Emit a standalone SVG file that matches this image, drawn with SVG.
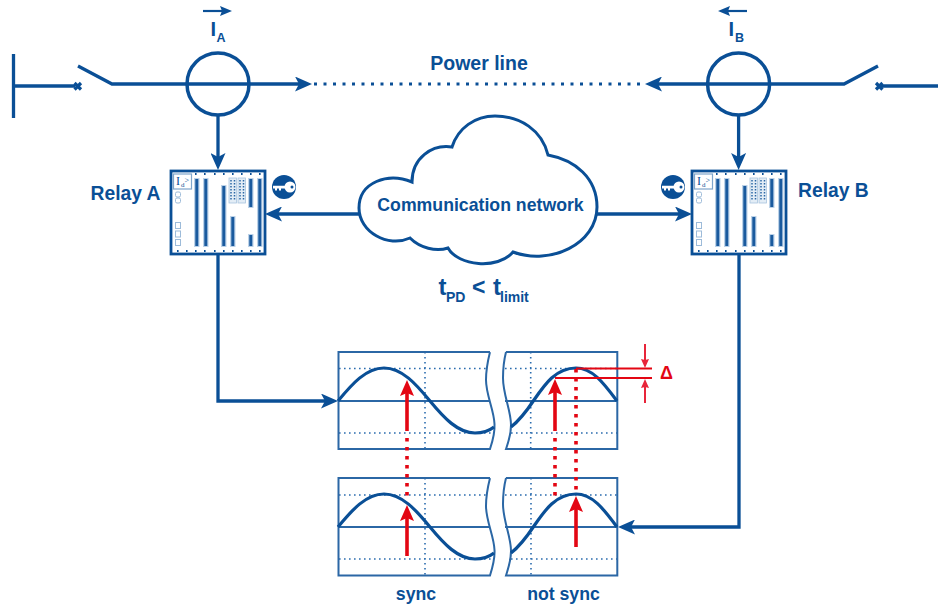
<svg xmlns="http://www.w3.org/2000/svg" width="938" height="606" viewBox="0 0 938 606">
<style>
text{font-family:"Liberation Sans",Arial,sans-serif;font-weight:bold;fill:#0a4f96}
.ln{fill:none;stroke:#0a4f96;stroke-width:3.300}
.cir{fill:none;stroke:#0a4f96;stroke-width:3.500}
.frame{fill:none;stroke:#2b67a5;stroke-width:2}
.mid{stroke:#2b67a5;stroke-width:2.200;fill:none}
.grid{stroke:#2b6cae;stroke-width:1.600;stroke-dasharray:1.600 3.400;fill:none}
.sine{fill:none;stroke:#0a4f96;stroke-width:3.200}
.red{stroke:#e30613;stroke-width:3.600;fill:none}
.reddot{stroke:#e30613;stroke-width:3.600;stroke-dasharray:3.400 5.600;fill:none}
.thin{stroke:#e8253a;stroke-width:2;fill:none}
.slotb{fill:#bcd2e8;stroke:none}
.slot{fill:#1a5a9e;stroke:none}
.conn{fill:#e3edf6;stroke:#a9c4de;stroke-width:.8}
.sq{fill:#fff;stroke:#9dbbd9;stroke-width:1}
.serif{font-family:"Liberation Serif",serif;font-weight:normal}
</style>
<defs>
<marker id="ah" markerUnits="userSpaceOnUse" markerWidth="18" markerHeight="15" refX="4" refY="7.500" orient="auto" viewBox="0 0 18 15"><path d="M0 0L17 7.500L0 15L4 7.500Z" fill="#0a4f96"/></marker>
<marker id="ahs" markerUnits="userSpaceOnUse" markerWidth="12" markerHeight="10" refX="2" refY="5" orient="auto" viewBox="0 0 12 10"><path d="M0 0L12 5L0 10L2 5Z" fill="#0a4f96"/></marker>
<marker id="ahr" markerUnits="userSpaceOnUse" markerWidth="17" markerHeight="14" refX="3" refY="7" orient="auto" viewBox="0 0 17 14"><path d="M0 0L16 7L0 14L3 7Z" fill="#e30613"/></marker>
<marker id="aht" markerUnits="userSpaceOnUse" markerWidth="9" markerHeight="8" refX="1" refY="4" orient="auto" viewBox="0 0 9 8"><path d="M0 0L9 4L0 8L1 4Z" fill="#e8253a"/></marker>
<g id="relay">
<rect x="0" y="0" width="94" height="83" fill="#fff" stroke="#0a4f96" stroke-width="2.800"/>
<rect x="2.500" y="3" width="18" height="15" fill="#fff" stroke="#7fa6cc" stroke-width="1.200"/>
<text class="serif" x="5" y="14" font-size="12">I</text>
<text class="serif" x="10" y="16" font-size="7">d</text>
<text class="serif" x="13.500" y="12" font-size="8">&gt;</text>
<path d="M24 3h1.600M33 3h1.600M43 3h1.600M52 3h1.600M61 3h1.600M70 3h1.600M79 3h1.600M88 3h1.600M6 80h1.600M15 80h1.600M24 80h1.600M33 80h1.600M43 80h1.600M52 80h1.600M61 80h1.600M70 80h1.600M79 80h1.600M88 80h1.600" stroke="#0a4f96" stroke-width="1.800" fill="none"/>
<rect class="slotb" x="23" y="7" width="5.500" height="69"/><rect class="slot" x="24.300" y="8" width="3" height="67"/>
<rect class="slotb" x="32" y="7" width="5.500" height="69"/><rect class="slot" x="33.300" y="8" width="3" height="67"/>
<rect class="slotb" x="50" y="14" width="5.500" height="62"/><rect class="slot" x="51.300" y="15" width="3" height="60"/>
<rect class="slotb" x="59" y="45" width="5.500" height="31"/><rect class="slot" x="60.300" y="46" width="3" height="29"/>
<rect class="slotb" x="77" y="7" width="5.500" height="30"/><rect class="slot" x="78.300" y="8" width="3" height="28"/>
<rect class="slotb" x="77" y="63" width="5.500" height="13"/><rect class="slot" x="78.300" y="64" width="3" height="11"/>
<rect class="slotb" x="86" y="7" width="5.500" height="69"/><rect class="slot" x="87.300" y="8" width="3" height="67"/>
<rect class="conn" x="58" y="7" width="7.500" height="25"/><rect class="conn" x="67" y="7" width="7.500" height="25"/>
<path d="M60 9v21M63.500 9v21M69 9v21M72.500 9v21" stroke="#2b67a5" stroke-width="1.500" stroke-dasharray="1.500 1.500" fill="none"/>
<rect class="sq" x="4.500" y="21" width="5" height="5" rx="1.500"/><rect class="sq" x="4.500" y="27" width="5" height="5" rx="1.500"/>
<rect class="sq" x="4.500" y="51.500" width="5" height="6"/><rect class="sq" x="4.500" y="60" width="5" height="6"/><rect class="sq" x="4.500" y="68.500" width="5" height="6"/>
</g>
<g id="key">
<circle r="12" fill="#0a4f96"/>
<circle cx="6" r="5.500" fill="#fff"/><circle cx="8" r="1.500" fill="#0a4f96"/>
<path d="M-11 -1.200H3V1.500H-3V3.500H-5V1.500H-7V3.500H-9V1.500H-11Z" fill="#fff"/>
</g>
</defs>

<g id="connectors">
<path class="ln" d="M13.500 54V118"/>
<path class="ln" d="M13.500 86H75"/>
<path class="ln" d="M78 66L112 84H299" marker-end="url(#ah)"/>
<path d="M314 84H645" stroke="#0a4f96" stroke-width="3" stroke-dasharray="3 6.500" fill="none"/>
<path class="ln" d="M878 66L844 84H658" marker-end="url(#ah)"/>
<path class="ln" d="M880 86H938"/>
<path class="ln" d="M218 115V157" marker-end="url(#ah)"/>
<path class="ln" d="M738.600 115V157" marker-end="url(#ah)"/>
<path class="ln" d="M360 214H278" marker-end="url(#ah)"/>
<path class="ln" d="M597 214H679" marker-end="url(#ah)"/>
<path class="ln" d="M218 254V401H325" marker-end="url(#ah)"/>
<path class="ln" d="M739 254V527H631" marker-end="url(#ah)"/>
<path d="M203 11H222" stroke="#0a4f96" stroke-width="2.200" fill="none" marker-end="url(#ahs)"/>
<path d="M747 11H728" stroke="#0a4f96" stroke-width="2.200" fill="none" marker-end="url(#ahs)"/>
</g>

<g id="breaker-left"><path d="M74.500 83L81 89.500M81 83L74.500 89.500" stroke="#0a4f96" stroke-width="3.200" fill="none"/></g>
<g id="breaker-right"><path d="M876 83L882.500 89.500M882.500 83L876 89.500" stroke="#0a4f96" stroke-width="3.200" fill="none"/></g>
<g id="ct-a"><circle class="cir" cx="218" cy="84" r="31"/></g>
<g id="ct-b"><circle class="cir" cx="738.600" cy="84" r="31"/></g>
<g id="label-ia"><text x="210.500" y="35.500" font-size="20">I</text><text x="216.500" y="41.500" font-size="12.500">A</text></g>
<g id="label-ib"><text x="728.500" y="35.500" font-size="20">I</text><text x="735" y="41.500" font-size="12.500">B</text></g>
<g id="label-power"><text x="479" y="70" font-size="19.500" text-anchor="middle">Power line</text></g>

<g id="relay-a"><use href="#relay" x="171" y="171"/><use href="#key" x="284" y="187"/><text x="90.500" y="200" font-size="19.300">Relay A</text></g>
<g id="relay-b"><use href="#relay" x="692" y="171"/><use href="#key" x="673" y="187"/><text x="798" y="196.500" font-size="19.300">Relay B</text></g>

<g id="cloud">
<path d="M412 182C388 172 359 182 359 208C359 232 388 248 410 238C420 248 436 252 448 248C458 266 498 270 513 252C550 266 597 244 597 207C597 178 575 160 548 155C542 130 520 116 495 116C475 116 458 128 452 147C432 144 412 158 412 182Z" fill="#fff" stroke="#0a4f96" stroke-width="3"/>
<text x="480.500" y="211" font-size="17.700" text-anchor="middle">Communication network</text>
</g>

<g id="timing">
<text x="438.500" y="295" font-size="24">t</text><text x="446" y="302" font-size="14">PD</text>
<text x="472" y="295" font-size="23">&lt;</text>
<text x="493" y="295" font-size="24">t</text><text x="500" y="302" font-size="14">limit</text>
</g>

<g id="chart-top">
<path class="grid" d="M339 368.500H487M339 433H492M425 352V449"/>
<path class="grid" d="M505 368.500H617M511 433H617M530.700 352V449"/>
<path class="mid" d="M338 401H490M505 401H617"/>
<path class="frame" d="M490 352H338.500V449H490C493 440 495 432 494.500 424C494 410 486 395 486 380C486 370 488 360 490 352"/>
<path class="frame" d="M506 352H617.300V449H506C508 443 511 435 511 425C511 410 503 395 503 378C503 368 504 360 506 352"/>
<path class="sine" d="M338 401C352 384 366 368 384 368C402 368 416 384 430 401C444 418 458 433 475 433C483 433 489 431 494 427"/>
<path class="sine" d="M511 427C520 420 528 409 534 400C545 384 556 368 576 368C592 368 603 382 617 401"/>
</g>

<g id="chart-bottom">
<path class="grid" d="M339 495H487M339 559H492M425 478V575.500"/>
<path class="grid" d="M505 495H617M511 559H617M531 478V575.500"/>
<path class="mid" d="M338 527H490M505 527H617"/>
<path class="frame" d="M490 478H338.500V575.500H490C493 566 495 558 494.500 550C494 536 486 521 486 506C486 496 488 486 490 478"/>
<path class="frame" d="M506 478H617.300V575.500H506C508 569 511 561 511 551C511 536 503 521 503 504C503 494 504 486 506 478"/>
<path class="sine" d="M338 527C352 510 366 494 384 494C402 494 416 510 430 527C444 544 458 559 475 559C483 559 489 557 494 553"/>
<path class="sine" d="M511 553C520 546 528 535 534 526C545 510 556 494 576 494C592 494 603 508 617 527"/>
</g>

<g id="sync-markers">
<path class="reddot" d="M407 438V500"/>
<path class="reddot" d="M555 438V500"/>
<path class="reddot" d="M576 369V492"/>
<path class="red" d="M407 431V393" marker-end="url(#ahr)"/>
<path class="red" d="M555 431V392" marker-end="url(#ahr)"/>
<path class="red" d="M407 556V518" marker-end="url(#ahr)"/>
<path class="red" d="M576 547V509" marker-end="url(#ahr)"/>
<path d="M576 368.500H652M555 378H652" stroke="#e30613" stroke-width="1.800" fill="none"/>
<path class="thin" d="M645 344V360" marker-end="url(#aht)"/>
<path class="thin" d="M645 403V387" marker-end="url(#aht)"/>
<text x="660" y="379" font-size="18" style="fill:#e30613">Δ</text>
</g>

<g id="labels-sync">
<text x="416" y="600" font-size="17.700" text-anchor="middle">sync</text>
<text x="563.500" y="600" font-size="17.700" text-anchor="middle">not sync</text>
</g>
</svg>
